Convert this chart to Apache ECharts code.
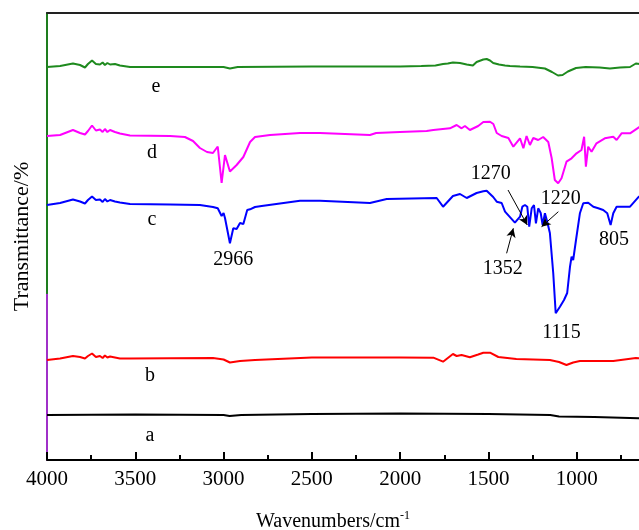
<!DOCTYPE html>
<html>
<head>
<meta charset="utf-8">
<script src="https://cdn.jsdelivr.net/npm/echarts@6/dist/echarts.min.js"></script>
<title>FTIR</title>
<style>
  html, body { margin: 0; padding: 0; overflow: hidden; background: #fff; }
</style>
</head>
<body>
<div id="chart" style="width:700px;height:530px;"></div>
<script>
// spectra: [wavenumber, transmittance (arbitrary, offset)]
var specA = [[4000,45],[3500,45.5],[3000,45],[2966,44],[2900,45],[2500,46],[2000,46.5],[1500,46],[1150,45],[1100,43.5],[900,43],[700,42],[600,41.5]];
var specB = [[4000,100],[3926,101.5],[3853,104],[3813,103],[3785,101.5],[3768,104],[3745,106.5],[3723,103],[3700,104],[3685,102],[3672,104.5],[3658,102.5],[3643,103.5],[3615,102.5],[3587,101.5],[3530,101.5],[3303,101.7],[3060,102],[3000,100.5],[2964,97.5],[2907,99],[2822,100],[2500,102.5],[2001,102.5],[1812,102.3],[1757,98.3],[1701,106],[1680,104],[1652,105],[1605,102.7],[1558,105.5],[1529,107.3],[1491,107.3],[1444,103],[1342,101],[1152,100],[1100,98],[1058,95],[1020,97.5],[982,99],[793,99],[665,102],[600,101]];
var specC = [[4000,255],[3926,257],[3853,260.5],[3813,258.5],[3785,256.5],[3768,260],[3745,263.5],[3723,260],[3700,260.5],[3685,258],[3672,261],[3658,258.5],[3643,260],[3615,258.5],[3587,257.5],[3530,256],[3303,255.5],[3134,255],[3060,253],[3033,251.7],[3011,244],[3000,247],[2992,242],[2964,216.7],[2945,231.7],[2926,231],[2907,237],[2888,236],[2866,250],[2850,250.7],[2822,253],[2784,254],[2567,259.3],[2454,259.3],[2171,257],[2076,261],[1793,262],[1757,253.3],[1701,264],[1661,266],[1623,262],[1567,267],[1529,268.7],[1510,269.3],[1473,263],[1453,258.3],[1425,257],[1406,248.3],[1350,237.3],[1321,243.3],[1308,253.3],[1293,255],[1280,253.3],[1269,233.3],[1255,251.7],[1242,255],[1231,236.7],[1218,251.7],[1204,247],[1193,235],[1180,246.7],[1167,238.3],[1152,227],[1133,187],[1119,146.7],[1095,153.3],[1072,160],[1054,167],[1038,193.3],[1029,203.3],[1020,200],[1004,220],[982,246.7],[963,256.7],[935,257.3],[906,253.3],[878,251.7],[850,250],[827,246.7],[808,235],[793,246.7],[774,253.3],[698,253.3],[648,263.3],[600,266]];
var specD = [[4000,324],[3926,325],[3853,330],[3813,327],[3785,325.5],[3768,329],[3745,334.5],[3723,329.5],[3700,330.5],[3685,328],[3672,331],[3658,328],[3643,330],[3615,328],[3587,326.5],[3530,324.5],[3303,324],[3219,323],[3173,319],[3134,312],[3094,308],[3060,307],[3033,313.5],[3011,277],[2992,305],[2964,288.5],[2926,295],[2888,303],[2850,318],[2822,323],[2737,325],[2567,327],[2454,327],[2171,325],[2136,327],[2001,328],[1850,329],[1812,330],[1718,331.7],[1680,335],[1652,331.7],[1633,334],[1605,330],[1558,334],[1529,338],[1491,338.3],[1472,336],[1453,327],[1425,324],[1387,322],[1359,313.3],[1321,321.7],[1302,311.7],[1284,324],[1265,315],[1246,322],[1218,320],[1190,323],[1161,318],[1142,302],[1124,280],[1105,276.7],[1086,281.7],[1058,298.3],[1029,301.7],[1001,306.7],[973,310],[958,323.3],[948,293.3],[935,313.3],[916,308.3],[888,316.7],[841,321.7],[793,323.3],[774,320],[746,326.7],[698,326.7],[648,332.7],[600,335]];
var specE = [[4000,393],[3926,394],[3853,396.5],[3813,395],[3785,392.5],[3768,396],[3745,399.5],[3723,396],[3700,395.5],[3685,397.5],[3672,395],[3658,397],[3643,395.5],[3615,396],[3587,394.5],[3530,393],[3300,393],[3000,393],[2964,391.5],[2920,393],[2500,393.5],[2000,393.5],[1880,394],[1800,394.5],[1757,396],[1730,396.5],[1701,397.5],[1661,397],[1623,395.5],[1588,394.5],[1567,398],[1529,400.5],[1510,401],[1491,399.5],[1473,397],[1440,395.5],[1406,394.5],[1378,394],[1321,393.5],[1250,393],[1180,391.5],[1140,388],[1106,384.5],[1080,385],[1050,388.5],[1004,392],[950,393],[870,392.5],[812,391.5],[755,392.5],[698,393],[665,396.5],[600,395]];

// text labels: [wavenumber, value, text]
var curveLabels = [[3383,373,'e'],[3405,307,'d'],[3405,240,'c'],[3417,84,'b'],[3417,24,'a']];
var peakLabels = [[2945,200,'2966'],[1419,191,'1352'],[1487,286,'1270'],[1091,261,'1220'],[789,220,'805'],[1086,127,'1115']];
// arrows: [fromWn, fromVal, toWn, toVal]
var arrows = [[1397,206.7,1359,231.7],[1389,270,1280,235],[1104,248.3,1199,233.3]];

var serif = '"Liberation Serif", "Times New Roman", serif';

function lineSeries(name, data, color) {
    return {
        name: name,
        type: 'line',
        data: data,
        symbol: 'none',
        smooth: false,
        lineStyle: { color: color, width: 2 },
        z: 3
    };
}

var chart = echarts.init(document.getElementById('chart'));
var blue = lineSeries('c', specC, '#0000ff');
blue.markLine = {
    silent: true,
    symbol: ['none', 'arrow'],
    symbolSize: [7, 9],
    label: { show: false },
    lineStyle: { color: '#000', width: 1, type: 'solid' },
    data: arrows.map(function (a) {
        return [{ coord: [a[0], a[1]] }, { coord: [a[2], a[3]] }];
    })
};

var option = {
    animation: false,
    backgroundColor: '#fff',
    grid: { left: 47, right: 35, top: 13, bottom: 70, outerBoundsMode: 'none', containLabel: false },
    xAxis: [
        {
            type: 'value',
            inverse: true,
            min: 500,
            max: 4000,
            interval: 500,
            name: 'Wavenumbers/cm{sup|-1}',
            nameLocation: 'middle',
            nameGap: 50,
            nameTextStyle: {
                fontFamily: serif, fontSize: 20, color: '#000',
                padding: [0, 46, 0, 0],
                rich: { sup: { fontFamily: serif, fontSize: 12, color: '#000', verticalAlign: 'top', padding: [0, 0, 12, 0] } }
            },
            axisLine: { lineStyle: { color: '#000', width: 2 } },
            axisTick: { inside: true, length: 8, lineStyle: { color: '#000', width: 2 } },
            minorTick: { show: true, splitNumber: 2, length: 5, lineStyle: { color: '#000', width: 2 } },
            axisLabel: {
                fontFamily: serif, fontSize: 21, color: '#000', margin: 9,
                formatter: function (v) { return String(v); }
            },
            splitLine: { show: false }
        },
        {
            type: 'value',
            inverse: true,
            position: 'top',
            min: 500,
            max: 4000,
            axisLine: { show: true, onZero: false, lineStyle: { color: '#222', width: 2 } },
            axisTick: { show: false },
            axisLabel: { show: false },
            splitLine: { show: false }
        }
    ],
    yAxis: {
        type: 'value',
        min: 0,
        max: 447,
        name: 'Transmittance/%',
        nameLocation: 'middle',
        nameGap: 14,
        nameTextStyle: { fontFamily: serif, fontSize: 22, color: '#000' },
        axisLine: {
            lineStyle: {
                width: 2,
                color: {
                    type: 'linear', x: 0, y: 0, x2: 0, y2: 1,
                    colorStops: [
                        { offset: 0, color: '#1e7d1e' },
                        { offset: 0.626, color: '#1e7d1e' },
                        { offset: 0.627, color: '#a030c8' },
                        { offset: 1, color: '#a030c8' }
                    ]
                }
            }
        },
        axisTick: { show: false },
        axisLabel: { show: false },
        splitLine: { show: false }
    },
    series: [
        lineSeries('a', specA, '#000000'),
        lineSeries('b', specB, '#ff0000'),
        blue,
        lineSeries('d', specD, '#ff00ff'),
        lineSeries('e', specE, '#1e8a1e'),
        {
            name: 'labels',
            type: 'scatter',
            symbolSize: 0,
            silent: true,
            itemStyle: { opacity: 1 },
            data: curveLabels.concat(peakLabels),
            label: {
                show: true,
                position: 'inside',
                formatter: function (p) { return p.value[2]; },
                fontFamily: serif,
                fontSize: 20,
                color: '#000'
            },
            z: 5
        }
    ]
};
chart.setOption(option);
</script>
</body>
</html>
